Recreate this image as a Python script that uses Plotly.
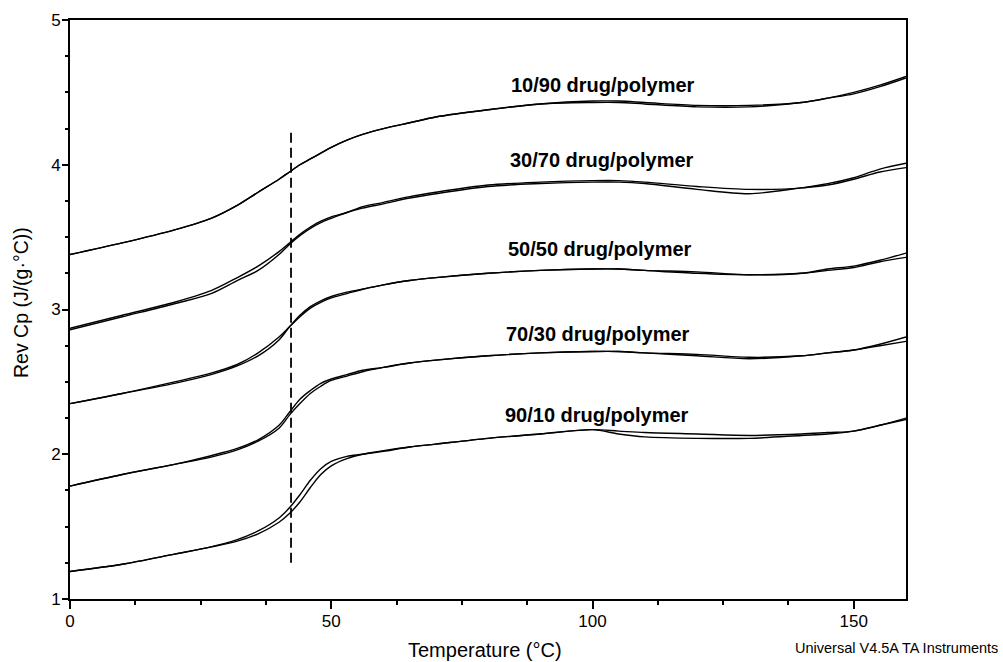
import plotly.graph_objects as go

# Temperature grid (°C) shared by all traces
temp = [0, 10, 20, 27, 32, 36, 40, 42, 44, 46, 48, 50, 53, 56, 60, 65, 70, 80, 90,
        100, 105, 110, 120, 130, 140, 145, 150, 155, 160]

# Rev Cp (J/(g·°C)) – two overlapping runs per composition
cp_10_90_a = [3.38, 3.46, 3.55, 3.63, 3.72, 3.81, 3.90, 3.95, 4.00, 4.04, 4.08, 4.12, 4.17, 4.21, 4.25, 4.29,
              4.33, 4.38, 4.42, 4.43, 4.43, 4.42, 4.40, 4.40, 4.43, 4.46, 4.49, 4.54, 4.60]
cp_10_90_b = [3.38, 3.46, 3.55, 3.63, 3.72, 3.81, 3.90, 3.95, 4.00, 4.04, 4.08, 4.12, 4.17, 4.21, 4.25, 4.29,
              4.33, 4.38, 4.42, 4.44, 4.44, 4.43, 4.41, 4.41, 4.43, 4.46, 4.50, 4.55, 4.61]

cp_30_70_a = [2.86, 2.95, 3.04, 3.11, 3.20, 3.27, 3.38, 3.45, 3.51, 3.56, 3.60, 3.63, 3.67, 3.70, 3.73, 3.77,
              3.80, 3.85, 3.87, 3.88, 3.88, 3.87, 3.83, 3.80, 3.84, 3.86, 3.90, 3.95, 3.98]
cp_30_70_b = [2.87, 2.96, 3.05, 3.13, 3.22, 3.30, 3.40, 3.46, 3.52, 3.57, 3.61, 3.64, 3.67, 3.71, 3.74, 3.78,
              3.81, 3.86, 3.88, 3.89, 3.89, 3.88, 3.85, 3.83, 3.84, 3.87, 3.91, 3.97, 4.01]

cp_50_50_a = [2.35, 2.42, 2.49, 2.55, 2.61, 2.68, 2.79, 2.88, 2.96, 3.02, 3.06, 3.09, 3.12, 3.14, 3.17, 3.20,
              3.22, 3.25, 3.27, 3.28, 3.28, 3.27, 3.25, 3.24, 3.25, 3.27, 3.29, 3.33, 3.36]
cp_50_50_b = [2.35, 2.42, 2.50, 2.56, 2.62, 2.70, 2.81, 2.88, 2.95, 3.01, 3.05, 3.08, 3.11, 3.14, 3.17, 3.20,
              3.22, 3.25, 3.27, 3.28, 3.28, 3.27, 3.26, 3.24, 3.25, 3.28, 3.30, 3.34, 3.39]

cp_70_30_a = [1.78, 1.86, 1.93, 1.99, 2.04, 2.10, 2.20, 2.29, 2.38, 2.44, 2.49, 2.52, 2.55, 2.58, 2.60, 2.63,
              2.65, 2.68, 2.70, 2.71, 2.71, 2.70, 2.68, 2.66, 2.68, 2.70, 2.72, 2.76, 2.81]
cp_70_30_b = [1.78, 1.86, 1.93, 1.98, 2.03, 2.09, 2.18, 2.27, 2.35, 2.42, 2.47, 2.51, 2.54, 2.57, 2.60, 2.63,
              2.65, 2.68, 2.70, 2.71, 2.71, 2.70, 2.69, 2.67, 2.68, 2.70, 2.72, 2.75, 2.78]

cp_90_10_a = [1.19, 1.24, 1.31, 1.36, 1.41, 1.47, 1.56, 1.63, 1.72, 1.82, 1.90, 1.95, 1.985, 2.00, 2.025, 2.05,
              2.07, 2.11, 2.14, 2.17, 2.14, 2.12, 2.11, 2.11, 2.13, 2.14, 2.16, 2.20, 2.24]
cp_90_10_b = [1.19, 1.24, 1.31, 1.36, 1.40, 1.45, 1.53, 1.59, 1.67, 1.77, 1.86, 1.92, 1.97, 2.00, 2.02, 2.05,
              2.07, 2.11, 2.14, 2.17, 2.16, 2.15, 2.14, 2.13, 2.14, 2.15, 2.16, 2.20, 2.25]

series = [cp_10_90_a, cp_10_90_b, cp_30_70_a, cp_30_70_b, cp_50_50_a, cp_50_50_b,
          cp_70_30_a, cp_70_30_b, cp_90_10_a, cp_90_10_b]

# Curve labels
label_text = ["10/90 drug/polymer", "30/70 drug/polymer", "50/50 drug/polymer",
              "70/30 drug/polymer", "90/10 drug/polymer"]
label_x = [102, 101.8, 101.5, 101, 100.8]
label_y = [4.55, 4.03, 3.42, 2.83, 2.27]

# Tg marker (dashed vertical line)
tg_x = [42.3, 42.3]
tg_y = [1.25, 4.24]

# Ticks
x_ticks = [0, 50, 100, 150]
y_ticks = [1, 2, 3, 4, 5]

FONT = "Liberation Sans, Arial, sans-serif"

fig = go.Figure()
for s in series:
    fig.add_trace(go.Scatter(x=temp, y=s, mode="lines",
                             line=dict(color="black", width=1.4, shape="spline", smoothing=0.9),
                             showlegend=False, hoverinfo="skip"))

fig.add_trace(go.Scatter(x=tg_x, y=tg_y, mode="lines",
                         line=dict(color="black", width=1.8, dash="10px,5px"),
                         showlegend=False, hoverinfo="skip"))

annotations = []
for t, lx, ly in zip(label_text, label_x, label_y):
    annotations.append(dict(x=lx, y=ly, xref="x", yref="y", text="<b>%s</b>" % t,
                            showarrow=False, xanchor="center", yanchor="middle",
                            font=dict(family=FONT, size=20, color="black")))

annotations.append(dict(x=(485 - 70) / 836, y=(599 - 650) / 579, xref="paper", yref="paper",
                        text="Temperature (°C)", showarrow=False, xanchor="center", yanchor="middle",
                        font=dict(family=FONT, size=20, color="black")))
annotations.append(dict(x=(21 - 70) / 836, y=(599 - 303) / 579, xref="paper", yref="paper",
                        text="Rev Cp (J/(g·°C))", showarrow=False, xanchor="center", yanchor="middle",
                        textangle=-90, font=dict(family=FONT, size=19.5, color="black")))
annotations.append(dict(x=(1000 - 70) / 836, y=(599 - 648) / 579, xref="paper", yref="paper",
                        text="Universal V4.5A TA Instruments", showarrow=False, xanchor="right",
                        yanchor="middle", font=dict(family=FONT, size=14.5, color="black")))

fig.update_layout(
    width=1003, height=662,
    margin=dict(l=70, r=97, t=20, b=63),
    paper_bgcolor="white", plot_bgcolor="white",
    annotations=annotations,
    font=dict(family=FONT, color="black"),
)

fig.update_xaxes(range=[0, 160], tickvals=x_ticks, ticks="outside", ticklen=8, tickwidth=1.5,
                 tickcolor="black", showline=True, linecolor="black", linewidth=2, mirror=True,
                 showgrid=False, zeroline=False, ticklabelstandoff=-2,
                 tickfont=dict(family=FONT, size=17, color="black"),
                 minor=dict(dtick=12.5, tick0=0, ticks="outside", ticklen=4, tickwidth=1.5,
                            tickcolor="black", showgrid=False))
fig.update_yaxes(range=[1, 5], tickvals=y_ticks, ticks="outside", ticklen=6, tickwidth=1.5,
                 tickcolor="black", showline=True, linecolor="black", linewidth=2, mirror=True,
                 showgrid=False, zeroline=False, ticklabelstandoff=-2,
                 tickfont=dict(family=FONT, size=17, color="black"),
                 minor=dict(dtick=0.25, tick0=1, ticks="outside", ticklen=3, tickwidth=1.5,
                            tickcolor="black", showgrid=False))

fig.write_html("out.html")
